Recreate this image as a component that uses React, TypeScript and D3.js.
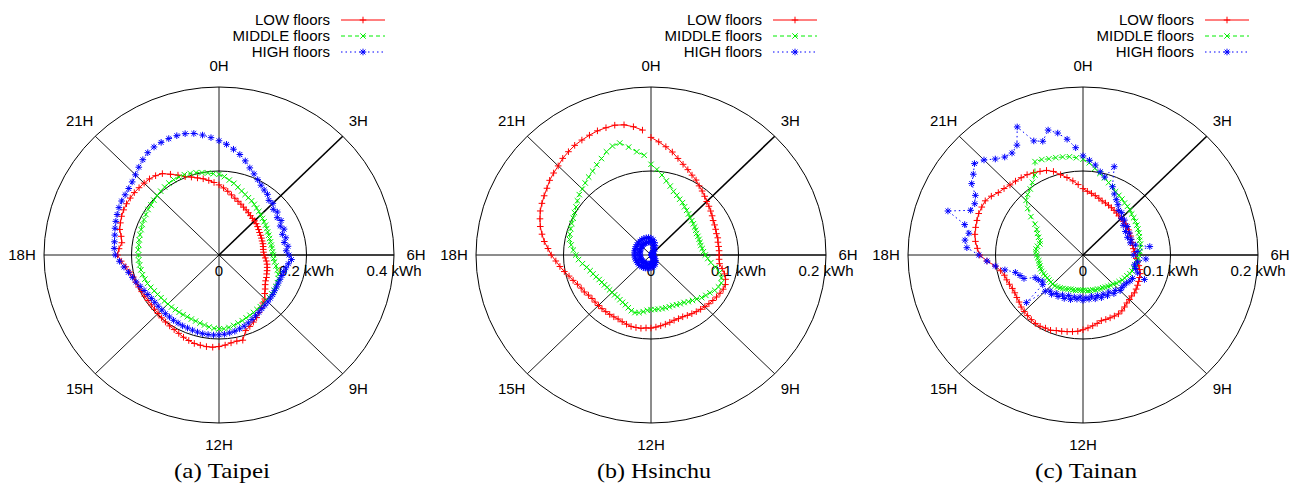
import React from 'react';
import * as d3 from 'd3';

// one reading every 15 minutes, 0H .. 23.75H
const HOURS = d3.range(96).map((i) => i / 4);

const hourTicks = [0, 3, 6, 9, 12, 15, 18, 21];
const hourLabels = ['0H', '3H', '6H', '9H', '12H', '15H', '18H', '21H'];
const seriesNames = ['LOW floors', 'MIDDLE floors', 'HIGH floors'];

// average consumption (kWh) per 15 minutes
const taipeiLow = [
  0.167, 0.160, 0.153, 0.146, 0.140, 0.135, 0.131, 0.127,
  0.124, 0.121, 0.118, 0.116, 0.115, 0.113, 0.111, 0.109,
  0.107, 0.106, 0.105, 0.104, 0.104, 0.103, 0.102, 0.102,
  0.103, 0.106, 0.109, 0.112, 0.114, 0.116, 0.118, 0.121,
  0.123, 0.127, 0.133, 0.139, 0.148, 0.152, 0.158, 0.165,
  0.172, 0.178, 0.184, 0.190, 0.210, 0.209, 0.211, 0.215,
  0.218, 0.220, 0.220, 0.219, 0.218, 0.215, 0.212, 0.208,
  0.205, 0.203, 0.201, 0.199, 0.197, 0.196, 0.195, 0.195,
  0.196, 0.197, 0.199, 0.201, 0.203, 0.208, 0.215, 0.224,
  0.232, 0.229, 0.224, 0.228, 0.235, 0.238, 0.241, 0.243,
  0.244, 0.244, 0.244, 0.243, 0.242, 0.241, 0.238, 0.233,
  0.222, 0.212, 0.202, 0.196, 0.190, 0.185, 0.179, 0.173,
];
const taipeiMiddle = [
  0.192, 0.187, 0.180, 0.174, 0.167, 0.161, 0.156, 0.152,
  0.149, 0.145, 0.141, 0.138, 0.135, 0.132, 0.130, 0.128,
  0.126, 0.124, 0.123, 0.122, 0.122, 0.122, 0.122, 0.123,
  0.124, 0.125, 0.128, 0.133, 0.138, 0.143, 0.147, 0.149,
  0.150, 0.151, 0.152, 0.152, 0.153, 0.154, 0.155, 0.156,
  0.158, 0.160, 0.162, 0.165, 0.168, 0.171, 0.174, 0.176,
  0.176, 0.175, 0.173, 0.170, 0.168, 0.166, 0.165, 0.164,
  0.164, 0.164, 0.164, 0.165, 0.165, 0.166, 0.167, 0.169,
  0.171, 0.174, 0.177, 0.179, 0.181, 0.182, 0.183, 0.184,
  0.184, 0.185, 0.185, 0.186, 0.187, 0.188, 0.190, 0.191,
  0.193, 0.195, 0.196, 0.198, 0.200, 0.202, 0.204, 0.206,
  0.207, 0.207, 0.207, 0.205, 0.203, 0.200, 0.197, 0.194,
];
const taipeiHigh = [
  0.272, 0.264, 0.254, 0.244, 0.232, 0.219, 0.209, 0.200,
  0.192, 0.186, 0.182, 0.173, 0.174, 0.165, 0.168, 0.160,
  0.164, 0.156, 0.161, 0.153, 0.158, 0.152, 0.159, 0.154,
  0.160, 0.166, 0.160, 0.156, 0.153, 0.152, 0.151, 0.151,
  0.152, 0.153, 0.155, 0.156, 0.158, 0.159, 0.161, 0.164,
  0.167, 0.171, 0.175, 0.179, 0.182, 0.185, 0.187, 0.189,
  0.190, 0.191, 0.191, 0.191, 0.190, 0.189, 0.188, 0.188,
  0.187, 0.187, 0.186, 0.186, 0.185, 0.185, 0.185, 0.186,
  0.188, 0.191, 0.195, 0.200, 0.205, 0.211, 0.219, 0.228,
  0.237, 0.240, 0.241, 0.243, 0.246, 0.249, 0.252, 0.255,
  0.257, 0.258, 0.260, 0.264, 0.270, 0.278, 0.286, 0.293,
  0.297, 0.299, 0.300, 0.300, 0.299, 0.295, 0.288, 0.280,
];

const hsinchuLow = [
  0.140, 0.135, 0.130, 0.125, 0.119, 0.114, 0.110, 0.106,
  0.103, 0.099, 0.096, 0.093, 0.090, 0.088, 0.086, 0.084,
  0.082, 0.081, 0.080, 0.079, 0.079, 0.078, 0.078, 0.078,
  0.078, 0.078, 0.079, 0.083, 0.087, 0.090, 0.092, 0.092,
  0.091, 0.090, 0.089, 0.088, 0.087, 0.086, 0.085, 0.084,
  0.083, 0.082, 0.082, 0.082, 0.083, 0.084, 0.085, 0.086,
  0.087, 0.087, 0.088, 0.088, 0.088, 0.087, 0.086, 0.085,
  0.085, 0.085, 0.085, 0.085, 0.085, 0.085, 0.085, 0.086,
  0.088, 0.089, 0.091, 0.094, 0.097, 0.101, 0.105, 0.109,
  0.114, 0.118, 0.123, 0.127, 0.131, 0.134, 0.137, 0.139,
  0.141, 0.143, 0.146, 0.148, 0.150, 0.153, 0.155, 0.157,
  0.158, 0.159, 0.160, 0.160, 0.160, 0.158, 0.154, 0.149,
];
const hsinchuMiddle = [
  0.108, 0.102, 0.096, 0.090, 0.085, 0.080, 0.077, 0.074,
  0.072, 0.069, 0.067, 0.065, 0.063, 0.062, 0.061, 0.060,
  0.059, 0.058, 0.058, 0.058, 0.058, 0.058, 0.059, 0.060,
  0.062, 0.065, 0.069, 0.075, 0.081, 0.085, 0.087, 0.086,
  0.084, 0.081, 0.079, 0.077, 0.074, 0.072, 0.070, 0.068,
  0.067, 0.066, 0.065, 0.065, 0.065, 0.065, 0.065, 0.065,
  0.065, 0.066, 0.068, 0.070, 0.071, 0.070, 0.068, 0.066,
  0.065, 0.064, 0.063, 0.063, 0.063, 0.063, 0.063, 0.064,
  0.065, 0.066, 0.068, 0.070, 0.072, 0.075, 0.079, 0.083,
  0.086, 0.089, 0.092, 0.095, 0.096, 0.097, 0.098, 0.099,
  0.101, 0.103, 0.106, 0.109, 0.111, 0.114, 0.117, 0.120,
  0.124, 0.128, 0.133, 0.137, 0.138, 0.131, 0.124, 0.119,
];
const hsinchuHigh = [
  0.0200, 0.0150, 0.0182, 0.0120, 0.0155, 0.0090, 0.0120, 0.0058,
  0.0085, 0.0032, 0.0058, 0.0016, 0.0034, 0.0012, 0.0026, 0.0008,
  0.0022, 0.0008, 0.0020, 0.0008, 0.0019, 0.0008, 0.0019, 0.0009,
  0.0018, 0.0010, 0.0020, 0.0011, 0.0022, 0.0013, 0.0026, 0.0016,
  0.0033, 0.0022, 0.0044, 0.0032, 0.0065, 0.0038, 0.0085, 0.0052,
  0.0104, 0.0068, 0.0120, 0.0082, 0.0134, 0.0094, 0.0145, 0.0102,
  0.0150, 0.0105, 0.0156, 0.0108, 0.0162, 0.0112, 0.0168, 0.0115,
  0.0172, 0.0118, 0.0175, 0.0120, 0.0177, 0.0121, 0.0179, 0.0122,
  0.0180, 0.0123, 0.0182, 0.0124, 0.0183, 0.0125, 0.0185, 0.0126,
  0.0187, 0.0128, 0.0189, 0.0131, 0.0192, 0.0134, 0.0195, 0.0137,
  0.0198, 0.0140, 0.0201, 0.0144, 0.0204, 0.0148, 0.0207, 0.0151,
  0.0210, 0.0154, 0.0212, 0.0156, 0.0212, 0.0156, 0.0210, 0.0154,
];

const tainanLow = [
  0.079, 0.076, 0.074, 0.072, 0.070, 0.068, 0.067, 0.066,
  0.065, 0.064, 0.063, 0.062, 0.062, 0.061, 0.061, 0.060,
  0.060, 0.059, 0.059, 0.058, 0.058, 0.058, 0.058, 0.059,
  0.060, 0.061, 0.063, 0.065, 0.067, 0.069, 0.070, 0.071,
  0.072, 0.073, 0.074, 0.074, 0.075, 0.076, 0.078, 0.080,
  0.081, 0.081, 0.081, 0.081, 0.081, 0.083, 0.085, 0.087,
  0.089, 0.091, 0.092, 0.093, 0.094, 0.095, 0.097, 0.097,
  0.098, 0.098, 0.097, 0.096, 0.095, 0.094, 0.092, 0.091,
  0.090, 0.090, 0.091, 0.092, 0.093, 0.096, 0.101, 0.110,
  0.118, 0.121, 0.124, 0.126, 0.127, 0.128, 0.129, 0.129,
  0.129, 0.126, 0.122, 0.120, 0.118, 0.117, 0.116, 0.115,
  0.113, 0.111, 0.109, 0.105, 0.099, 0.094, 0.089, 0.084,
];
const tainanMiddle = [
  0.114, 0.110, 0.104, 0.099, 0.095, 0.091, 0.088, 0.084,
  0.082, 0.080, 0.078, 0.077, 0.076, 0.074, 0.073, 0.072,
  0.071, 0.070, 0.069, 0.068, 0.067, 0.067, 0.066, 0.065,
  0.064, 0.063, 0.062, 0.061, 0.060, 0.059, 0.058, 0.056,
  0.055, 0.054, 0.052, 0.051, 0.049, 0.048, 0.047, 0.046,
  0.045, 0.045, 0.044, 0.044, 0.043, 0.043, 0.043, 0.042,
  0.042, 0.042, 0.042, 0.043, 0.043, 0.043, 0.044, 0.045,
  0.046, 0.047, 0.048, 0.049, 0.049, 0.049, 0.049, 0.049,
  0.050, 0.050, 0.051, 0.051, 0.051, 0.051, 0.051, 0.052,
  0.053, 0.054, 0.054, 0.053, 0.051, 0.052, 0.055, 0.058,
  0.061, 0.066, 0.075, 0.084, 0.092, 0.096, 0.099, 0.104,
  0.110, 0.124, 0.123, 0.121, 0.120, 0.119, 0.118, 0.116,
];
const tainanHigh = [
  0.118, 0.113, 0.108, 0.101, 0.096, 0.111, 0.088, 0.081,
  0.076, 0.072, 0.067, 0.067, 0.062, 0.063, 0.058, 0.061,
  0.056, 0.059, 0.055, 0.058, 0.056, 0.061, 0.077, 0.062,
  0.058, 0.072, 0.063, 0.060, 0.062, 0.066, 0.076, 0.063,
  0.062, 0.060, 0.059, 0.059, 0.060, 0.056, 0.058, 0.053,
  0.056, 0.052, 0.055, 0.051, 0.054, 0.050, 0.053, 0.051,
  0.054, 0.050, 0.053, 0.051, 0.055, 0.051, 0.056, 0.053,
  0.057, 0.055, 0.059, 0.057, 0.061, 0.086, 0.058, 0.056,
  0.059, 0.061, 0.073, 0.076, 0.080, 0.091, 0.101, 0.110,
  0.119, 0.133, 0.136, 0.133, 0.140, 0.163, 0.139, 0.138,
  0.142, 0.153, 0.158, 0.165, 0.160, 0.152, 0.147, 0.146,
  0.151, 0.170, 0.147, 0.143, 0.154, 0.148, 0.139, 0.128,
];

const panels = [
  { caption: '(a) Taipei', rMax: 0.4, rTicks: [0.2, 0.4], series: [taipeiLow, taipeiMiddle, taipeiHigh] },
  { caption: '(b) Hsinchu', rMax: 0.2, rTicks: [0.1, 0.2], series: [hsinchuLow, hsinchuMiddle, hsinchuHigh] },
  { caption: '(c) Tainan', rMax: 0.2, rTicks: [0.1, 0.2], series: [tainanLow, tainanMiddle, tainanHigh] },
];

const W = 1292;
const H = 485;
const CY = 255;
const RX = 175;
const RY = 168;
const centers = [219, 651, 1083];
const captionWidths = [96, 114, 102];

const SANS = "'Liberation Sans', Arial, Helvetica, sans-serif";
const SERIF = "'Liberation Serif', 'Times New Roman', serif";

const PLUS = 'M-3.3,0H3.3M0,-3.3V3.3';
const CROSS = 'M-2.7,-2.7L2.7,2.7M-2.7,2.7L2.7,-2.7';
const STAR = PLUS + 'M-2.4,-2.4L2.4,2.4M-2.4,2.4L2.4,-2.4';

const lineStyles = [
  { color: '#ff0000', dash: undefined, marker: PLUS },
  { color: '#00ee00', dash: '4,3', marker: CROSS },
  { color: '#0000ff', dash: '1.5,3', marker: STAR },
];

const hourAngle = d3.scaleLinear().domain([0, 24]).range([0, 2 * Math.PI]);

function Panel({ cx, panel, capW }: { cx: number; panel: any; capW: number }) {
  const rx = d3.scaleLinear().domain([0, panel.rMax]).range([0, RX]);
  const ry = d3.scaleLinear().domain([0, panel.rMax]).range([0, RY]);
  const px = (h: number, v: number) => cx + rx(v) * Math.sin(hourAngle(h));
  const py = (h: number, v: number) => CY - ry(v) * Math.cos(hourAngle(h));
  const line = d3
    .line<number>()
    .x((v, i) => px(HOURS[i], v))
    .y((v, i) => py(HOURS[i], v));

  return (
    <g>
      {/* grid */}
      {panel.rTicks.map((t: number) => (
        <ellipse key={t} cx={cx} cy={CY} rx={rx(t)} ry={ry(t)} fill="none" stroke="#000" strokeWidth={1} />
      ))}
      {hourTicks.map((h) => (
        <line
          key={h}
          x1={cx}
          y1={CY}
          x2={px(h, panel.rMax)}
          y2={py(h, panel.rMax)}
          stroke="#000"
          strokeWidth={h === 3 || h === 6 ? 1.6 : 0.9}
        />
      ))}
      {hourTicks.map((h, i) => (
        <text
          key={'l' + h}
          x={cx + (RX + 22) * Math.sin(hourAngle(h))}
          y={CY - (RY + 21.5) * Math.cos(hourAngle(h)) + 5.3}
          textAnchor="middle"
          fontFamily={SANS}
          fontSize={15}
        >
          {hourLabels[i]}
        </text>
      ))}
      <text x={cx} y={276} textAnchor="middle" fontFamily={SANS} fontSize={15}>0</text>
      {panel.rTicks.map((t: number) => (
        <text key={'r' + t} x={cx + rx(t)} y={276} textAnchor="middle" fontFamily={SANS} fontSize={15}>
          {t} kWh
        </text>
      ))}

      {/* series */}
      {panel.series.map((vals: number[], s: number) => {
        const st = lineStyles[s];
        return (
          <g key={s} stroke={st.color} fill="none" strokeWidth={1}>
            <path d={line(vals) || ''} strokeDasharray={st.dash} />
            {vals.map((v, i) => (
              <path key={i} d={st.marker} transform={`translate(${px(HOURS[i], v)},${py(HOURS[i], v)})`} />
            ))}
          </g>
        );
      })}

      {/* legend */}
      {seriesNames.map((name, s) => {
        const st = lineStyles[s];
        const y = 20 + s * 16;
        return (
          <g key={name}>
            <text x={cx + 111} y={y + 5} textAnchor="end" fontFamily={SANS} fontSize={15}>
              {name}
            </text>
            <line x1={cx + 122} x2={cx + 166} y1={y} y2={y} stroke={st.color} strokeWidth={1} strokeDasharray={st.dash} />
            <path d={st.marker} transform={`translate(${cx + 144},${y})`} stroke={st.color} fill="none" />
          </g>
        );
      })}

      <text
        x={cx + 3}
        y={478}
        textAnchor="middle"
        fontFamily={SERIF}
        fontSize={22}
        textLength={capW}
        lengthAdjust="spacingAndGlyphs"
      >
        {panel.caption}
      </text>
    </g>
  );
}

export default function App() {
  return (
    <svg
      width={W}
      height={H}
      style={{ position: 'absolute', left: 0, top: 0, background: '#fff' }}
    >
      <rect width={W} height={H} fill="#fff" />
      {panels.map((p, i) => (
        <Panel key={p.caption} cx={centers[i]} panel={p} capW={captionWidths[i]} />
      ))}
    </svg>
  );
}
